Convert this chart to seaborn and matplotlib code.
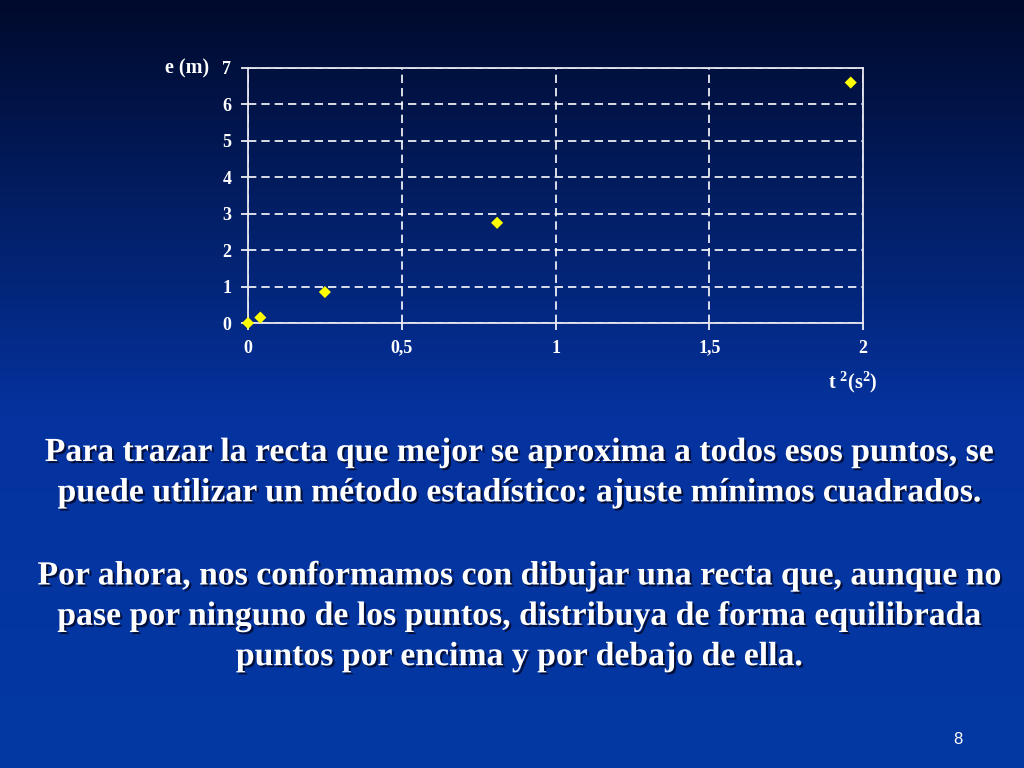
import numpy as np
import pandas as pd
import seaborn as sns
import matplotlib
matplotlib.use('Agg')
from matplotlib import pyplot as plt
from matplotlib import patheffects as pe
from matplotlib.colors import LinearSegmentedColormap

# datos
t2 = [0, 0.04, 0.25, 0.81, 1.96]
e = [0, 0.15, 0.85, 2.75, 6.6]
xticks = [0, 0.5, 1, 1.5, 2]
xlabels = ['0', '0,5', '1', '1,5', '2']
yticks = [0, 1, 2, 3, 4, 5, 6, 7]

parrafo1 = ('Para trazar la recta que mejor se aproxima a todos esos puntos, se\n'
            'puede utilizar un método estadístico: ajuste mínimos cuadrados.')
parrafo2 = ('Por ahora, nos conformamos con dibujar una recta que, aunque no\n'
            'pase por ninguno de los puntos, distribuya de forma equilibrada\n'
            'puntos por encima y por debajo de ella.')

df = pd.DataFrame({'t2': t2, 'e': e})

sns.set_style('dark')
plt.rcParams['font.family'] = ['Liberation Serif', 'DejaVu Serif']
plt.rcParams['font.weight'] = 'bold'
plt.rcParams['mathtext.fontset'] = 'custom'
plt.rcParams['mathtext.rm'] = 'Liberation Serif:bold'
plt.rcParams['mathtext.bf'] = 'Liberation Serif:bold'
plt.rcParams['mathtext.it'] = 'Liberation Serif:bold'

fig = plt.figure(figsize=(10.24, 7.68), dpi=100)

# fondo degradado
bg = fig.add_axes([0, 0, 1, 1], zorder=-10)
cmap = LinearSegmentedColormap.from_list('fondo', [(0, '#000a2c'), (0.55, '#0533a0'), (1, '#0338a2')])
grad = np.linspace(0, 1, 256).reshape(-1, 1)
bg.imshow(grad, aspect='auto', cmap=cmap, extent=[0, 1, 0, 1], origin='upper')
bg.set_axis_off()

ax = fig.add_axes([0.2422, 0.5794, 0.6006, 0.3321])
ax.set_facecolor('none')
sns.scatterplot(data=df, x='t2', y='e', ax=ax, marker='D', color='#ffff00',
                s=38, edgecolor='none', zorder=5, clip_on=False)
ax.set_xlim(0, 2)
ax.set_ylim(0, 7)
ax.set_xticks(xticks)
ax.set_xticklabels(xlabels)
ax.set_yticks(yticks)
ax.grid(True, color='white', linestyle=(0, (5, 3)), linewidth=1.2)
for s in ax.spines.values():
    s.set_visible(True)
    s.set_color('#e8e8f0')
    s.set_linewidth(1.3)
ax.tick_params(colors='white', labelsize=13, direction='out', length=5, width=1.2,
               bottom=True, left=True, pad=7)
for lab in ax.get_xticklabels() + ax.get_yticklabels():
    lab.set_fontweight('bold')
ax.set_xlabel('')
ax.set_ylabel('')

fig.text(0.161, 0.911, 'e (m)', color='white', fontsize=14.5, fontweight='bold', va='center', ha='left')
fig.text(0.809, 0.502, r't $^{2}$(s$^{2}$)', color='white', fontsize=14.5, fontweight='bold', va='center', ha='left')

sombra = [pe.withSimplePatchShadow(offset=(1.5, -1.5), shadow_rgbFace='#000010', alpha=0.7)]
fig.text(0.5075, 0.3845, parrafo1, color='white', fontsize=24.3, fontweight='bold', ha='center', va='center',
         linespacing=1.39, path_effects=sombra)
fig.text(0.5075, 0.1975, parrafo2, color='white', fontsize=24.3, fontweight='bold', ha='center', va='center',
         linespacing=1.39, path_effects=sombra)
fig.text(0.931, 0.031, '8', color='white', fontsize=12, family='Liberation Sans', fontweight='normal')

fig.savefig('out.png', dpi=100)
